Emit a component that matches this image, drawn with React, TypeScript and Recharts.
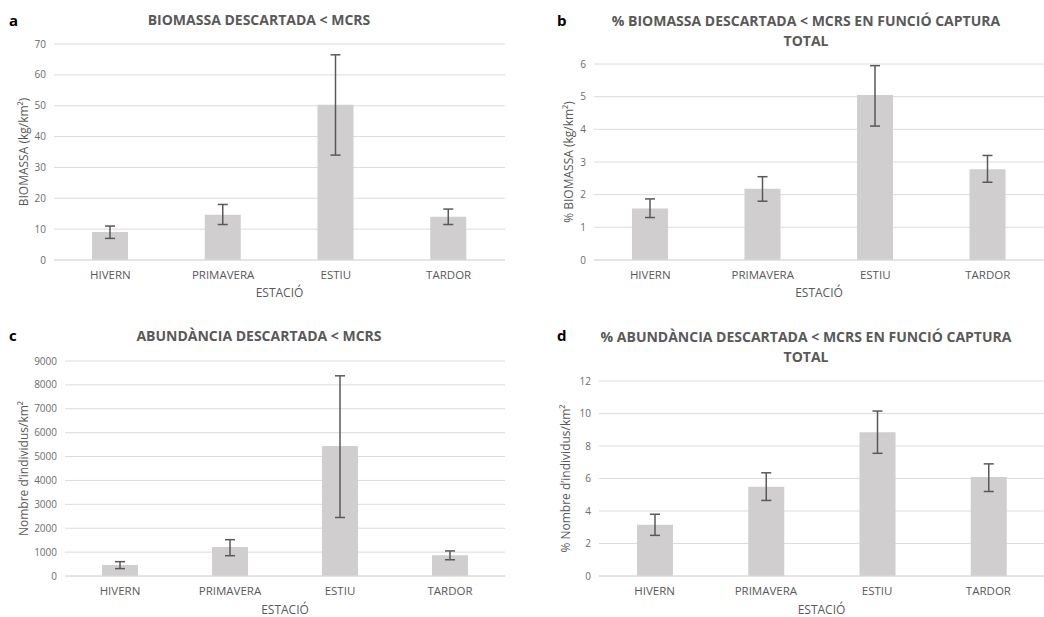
import { BarChart, Bar, XAxis, YAxis, CartesianGrid, ErrorBar } from 'recharts';

const SEASONS = ['HIVERN', 'PRIMAVERA', 'ESTIU', 'TARDOR'];

// a - biomassa descartada (kg/km2)
const biomass = [9.1, 14.7, 50.3, 14.0];
const biomassLow = [7.0, 11.5, 34.0, 11.5];
const biomassHigh = [11.0, 18.0, 66.5, 16.5];

// b - % biomassa respecte captura total
const biomassPct = [1.58, 2.18, 5.05, 2.78];
const biomassPctLow = [1.3, 1.8, 4.1, 2.38];
const biomassPctHigh = [1.87, 2.55, 5.95, 3.2];

// c - abundancia descartada (ind/km2)
const abundance = [460, 1210, 5440, 870];
const abundanceLow = [310, 850, 2450, 680];
const abundanceHigh = [600, 1520, 8380, 1050];

// d - % abundancia respecte captura total
const abundancePct = [3.15, 5.5, 8.85, 6.1];
const abundancePctLow = [2.5, 4.65, 7.55, 5.2];
const abundancePctHigh = [3.8, 6.35, 10.15, 6.9];

const ticksA = [0, 10, 20, 30, 40, 50, 60, 70];
const ticksB = [0, 1, 2, 3, 4, 5, 6];
const ticksC = [0, 1000, 2000, 3000, 4000, 5000, 6000, 7000, 8000, 9000];
const ticksD = [0, 2, 4, 6, 8, 10, 12];

const GREY = '#595959';
const GRID = '#dcdcdc';
const BAR = '#d0cece';
const FONT = '"Open Sans", sans-serif';

const build = (vals: number[], lo: number[], hi: number[]) =>
  SEASONS.map((name, i) => ({ name, value: vals[i], err: [vals[i] - lo[i], hi[i] - vals[i]] }));

const YTitle = (props: any) => {
  const { viewBox, text, px } = props;
  const cy = viewBox.y + viewBox.height / 2;
  return (
    <text x={px} y={cy} transform={`rotate(-90 ${px} ${cy})`} textAnchor="middle"
      dominantBaseline="central" fill={GREY} fontSize={12} fontFamily={FONT}>
      {text}
    </text>
  );
};

interface PanelProps {
  left: number; top: number; width: number; height: number;
  marginTop: number; marginRight: number; yWidth: number; xHeight: number;
  yTitle: string; yTitleX: number;
  data: any[]; ticks: number[];
}

function Panel(p: PanelProps) {
  const max = p.ticks[p.ticks.length - 1];
  return (
    <div style={{ position: 'absolute', left: p.left, top: p.top }}>
      <BarChart width={p.width} height={p.height} data={p.data}
        margin={{ top: p.marginTop, right: p.marginRight, left: 0, bottom: 0 }}>
        <CartesianGrid vertical={false} stroke={GRID} />
        <XAxis dataKey="name" interval={0} tickLine={false} axisLine={{ stroke: GRID }}
          height={p.xHeight} tickMargin={5}
          tick={{ fontSize: 11.5, fill: GREY, fontFamily: FONT }}
          label={{ value: 'ESTACIÓ', position: 'insideBottom', offset: 3, fontSize: 12, fill: GREY, fontFamily: FONT }} />
        <YAxis width={p.yWidth} domain={[0, max]} ticks={p.ticks} interval={0}
          tickLine={false} axisLine={false}
          tick={{ fontSize: 10, fill: '#6b6b6b', fontFamily: FONT }}
          label={<YTitle text={p.yTitle} px={p.yTitleX} />} />
        <Bar dataKey="value" fill={BAR} barSize={36} isAnimationActive={false}>
          <ErrorBar dataKey="err" direction="y" width={5} stroke={GREY} strokeWidth={1.5} />
        </Bar>
      </BarChart>
    </div>
  );
}

const titleStyle = (cx: number, top: number): React.CSSProperties => ({
  position: 'absolute', left: cx - 260, top, width: 520, textAlign: 'center',
  fontFamily: FONT, fontWeight: 700, fontSize: 14, color: GREY, lineHeight: '20px',
});

const letterStyle = (x: number, top: number): React.CSSProperties => ({
  position: 'absolute', left: x, top, fontFamily: FONT, fontWeight: 700, fontSize: 15, color: '#000', lineHeight: '20px',
});

export default function App() {
  return (
    <div style={{ position: 'absolute', left: 0, top: 0, width: 1044, height: 617, background: '#fff', overflow: 'hidden' }}>
      <Panel left={0} top={0} width={520} height={300} marginTop={44} marginRight={15}
        yWidth={54} xHeight={40} yTitle="BIOMASSA (kg/km²)" yTitleX={23}
        data={build(biomass, biomassLow, biomassHigh)} ticks={ticksA} />
      <Panel left={520} top={0} width={524} height={300} marginTop={64} marginRight={0}
        yWidth={74} xHeight={40} yTitle="% BIOMASSA (kg/km²)" yTitleX={48}
        data={build(biomassPct, biomassPctLow, biomassPctHigh)} ticks={ticksB} />
      <Panel left={0} top={300} width={520} height={317} marginTop={61} marginRight={15}
        yWidth={65} xHeight={41} yTitle="Nombre d’individus/km²" yTitleX={23}
        data={build(abundance, abundanceLow, abundanceHigh)} ticks={ticksC} />
      <Panel left={520} top={300} width={524} height={317} marginTop={81} marginRight={0}
        yWidth={79} xHeight={41} yTitle="% Nombre d’individus/km²" yTitleX={45}
        data={build(abundancePct, abundancePctLow, abundancePctHigh)} ticks={ticksD} />

      <div style={letterStyle(9, 10)}>a</div>
      <div style={titleStyle(259, 10)}>BIOMASSA DESCARTADA &lt; MCRS</div>
      <div style={letterStyle(557, 10)}>b</div>
      <div style={titleStyle(806, 11)}>% BIOMASSA DESCARTADA &lt; MCRS EN FUNCIÓ CAPTURA<br />TOTAL</div>
      <div style={letterStyle(9, 325)}>c</div>
      <div style={titleStyle(259, 326)}>ABUNDÀNCIA DESCARTADA &lt; MCRS</div>
      <div style={letterStyle(557, 325)}>d</div>
      <div style={titleStyle(806, 327)}>% ABUNDÀNCIA DESCARTADA &lt; MCRS EN FUNCIÓ CAPTURA<br />TOTAL</div>
    </div>
  );
}
